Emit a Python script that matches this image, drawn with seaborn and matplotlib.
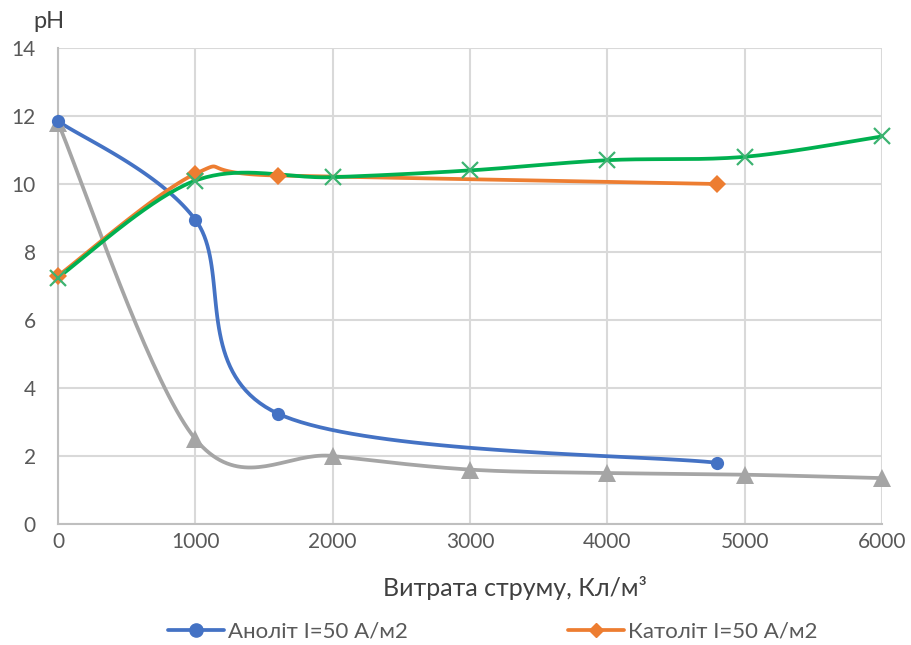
import numpy as np
import pandas as pd
import matplotlib
matplotlib.use("Agg")
import matplotlib.pyplot as plt
import seaborn as sns
from matplotlib.lines import Line2D

# ---- data ----
anolyte_x = [0, 1000, 1600, 4800]
anolyte_y = [11.85, 8.95, 3.25, 1.8]

catholyte_x = [0, 1000, 1600, 4800]
catholyte_y = [7.3, 10.3, 10.25, 10.0]

gray_x = [0, 1000, 2000, 3000, 4000, 5000, 6000]
gray_y = [11.8, 2.5, 2.0, 1.6, 1.5, 1.45, 1.35]

green_x = [0, 1000, 2000, 3000, 4000, 5000, 6000]
green_y = [7.25, 10.1, 10.2, 10.4, 10.7, 10.8, 11.4]

x_ticks = [0, 1000, 2000, 3000, 4000, 5000, 6000]
y_ticks = [0, 2, 4, 6, 8, 10, 12, 14]
x_label = "Витрата струму, Кл/м³"
y_label = "pH"
legend_labels = ["Аноліт I=50 A/м2", "Католіт I=50 A/м2"]


def smooth(xs, ys, n=40):
    """Excel-like smoothed line (Bezier with Catmull-Rom control points)."""
    P = np.column_stack([xs, ys]).astype(float)
    out = []
    m = len(P)
    for i in range(m - 1):
        p0 = P[i - 1] if i > 0 else P[i]
        p1 = P[i]
        p2 = P[i + 1]
        p3 = P[i + 2] if i + 2 < m else P[i + 1]
        c1 = p1 + (p2 - p0) / 6.0
        c2 = p2 - (p3 - p1) / 6.0
        t = np.linspace(0, 1, n)[:, None]
        seg = ((1 - t) ** 3) * p1 + 3 * ((1 - t) ** 2) * t * c1 + 3 * (1 - t) * t ** 2 * c2 + t ** 3 * p2
        out.append(seg if i == 0 else seg[1:])
    return np.vstack(out)


sns.set_theme(style="white")
plt.rcParams['font.family'] = ['Lato', 'DejaVu Sans']

fig = plt.figure(figsize=(9.12, 6.45), dpi=100)
ax = fig.add_axes([58 / 912, 1 - 524 / 645, (882 - 58) / 912, (524 - 48) / 645])

series = [
    (gray_x, gray_y, "#A5A5A5", "^", 13),
    (anolyte_x, anolyte_y, "#4472C4", "o", 9.5),
    (catholyte_x, catholyte_y, "#ED7D31", "D", 9),
    (green_x, green_y, "#00B050", "x", 11),
]

for xs, ys, col, mk, ms in series:
    c = smooth(xs, ys)
    df = pd.DataFrame({"x": c[:, 0], "y": c[:, 1]})
    sns.lineplot(data=df, x="x", y="y", sort=False, estimator=None, color=col,
                 linewidth=2.7, ax=ax, zorder=3)
    pts = pd.DataFrame({"x": xs, "y": ys})
    if mk == "x":
        ax.plot(pts["x"], pts["y"], linestyle="none", marker="x", markersize=ms,
                markeredgewidth=1.6, color="#3CB371", zorder=4, clip_on=False)
    else:
        ax.plot(pts["x"], pts["y"], linestyle="none", marker=mk, markersize=ms,
                color=col, markeredgewidth=0, zorder=4, clip_on=False)

ax.set_xlim(0, 6000)
ax.set_ylim(0, 14)
ax.set_xticks(x_ticks)
ax.set_yticks(y_ticks)
ax.grid(True, color="#D9D9D9", linewidth=1.5)
ax.set_axisbelow(True)
for s in ["top", "right"]:
    ax.spines[s].set_visible(False)
for s in ["left", "bottom"]:
    ax.spines[s].set_color("#BFBFBF")
    ax.spines[s].set_linewidth(1.5)
ax.tick_params(axis="both", length=0, labelsize=15, colors="#595959")
ax.tick_params(axis="x", pad=6)
ax.tick_params(axis="y", pad=16)
ax.set_xlabel(x_label, fontsize=18, color="#404040")
ax.xaxis.set_label_coords((515 - 58) / 824, -(588 - 524) / 476)
ax.xaxis.label.set_va("center")
ax.set_ylabel("")
fig.text(33 / 912, 1 - 22 / 645, y_label, fontsize=17, color="#404040",
         ha="left", va="center")

handles = [
    Line2D([0], [0], color="#4472C4", linewidth=2.7, marker="o", markersize=9.5),
    Line2D([0], [0], color="#ED7D31", linewidth=2.7, marker="D", markersize=7.5),
]
leg = fig.legend(handles, legend_labels, loc="center", bbox_to_anchor=(493 / 912, 1 - 632 / 645),
                 ncol=2, frameon=False, fontsize=16, handlelength=2.5,
                 columnspacing=7.2, handletextpad=0.2)
for t in leg.get_texts():
    t.set_color("#595959")

fig.savefig("out.png", dpi=100)
